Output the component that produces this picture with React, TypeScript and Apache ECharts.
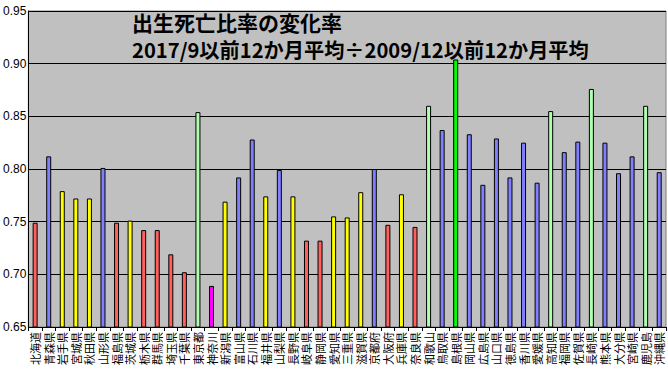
import React, { useEffect, useRef } from "react";
import * as echarts from "echarts";

const prefectures = [
  "北海道", "青森県", "岩手県", "宮城県", "秋田県", "山形県", "福島県", "茨城県", "栃木県", "群馬県",
  "埼玉県", "千葉県", "東京都", "神奈川", "新潟県", "富山県", "石川県", "福井県", "山梨県", "長野県",
  "岐阜県", "静岡県", "愛知県", "三重県", "滋賀県", "京都府", "大阪府", "兵庫県", "奈良県", "和歌山",
  "鳥取県", "島根県", "岡山県", "広島県", "山口県", "徳島県", "香川県", "愛媛県", "高知県", "福岡県",
  "佐賀県", "長崎県", "熊本県", "大分県", "宮崎県", "鹿児島", "沖縄県",
];

const ratios = [
  0.749, 0.812, 0.779, 0.772, 0.772, 0.801, 0.749, 0.751, 0.742, 0.742,
  0.719, 0.702, 0.854, 0.689, 0.769, 0.792, 0.828, 0.774, 0.799, 0.774,
  0.732, 0.732, 0.755, 0.754, 0.778, 0.800, 0.747, 0.776, 0.745, 0.860,
  0.837, 0.904, 0.833, 0.785, 0.829, 0.792, 0.825, 0.787, 0.855, 0.816,
  0.826, 0.876, 0.825, 0.796, 0.812, 0.860, 0.797,
];

// colour group of each bar: r=red, b=blue, y=yellow, l=light green, m=magenta, g=green
const groups = [
  "r", "b", "y", "y", "y", "b", "r", "y", "r", "r",
  "r", "r", "l", "m", "y", "b", "b", "y", "b", "y",
  "r", "r", "y", "y", "y", "b", "r", "y", "r", "l",
  "b", "g", "b", "b", "b", "b", "b", "b", "l", "b",
  "b", "l", "b", "b", "b", "l", "b",
];

const yTicks = [0.65, 0.7, 0.75, 0.8, 0.85, 0.9, 0.95];

const titleLines = ["出生死亡比率の変化率", "2017/9以前12か月平均÷2009/12以前12か月平均"];

const groupColors: Record<string, string> = {
  r: "#FF5F5F",
  b: "#8080FF",
  y: "#FFFF00",
  l: "#B0FFB0",
  m: "#FF00FF",
  g: "#00FF00",
};

export default function App() {
  const ref = useRef<HTMLDivElement>(null);
  useEffect(() => {
    if (!ref.current) return;
    const chart = echarts.init(ref.current, undefined, { renderer: "svg" });
    const base = {
      fontFamily: "Noto Sans CJK JP",
      fontWeight: "bold",
      fill: "#000",
      lineHeight: 28,
    };
    chart.setOption({
      animation: false,
      backgroundColor: "#FFFFFF",
      graphic: [
        {
          type: "text",
          x: 132,
          y: 35.5,
          z: 100,
          style: {
            text: `{a|${titleLines[0]}}\n{b|${titleLines[1]}}`,
            textVerticalAlign: "middle",
            textAlign: "left",
            rich: {
              a: { ...base, fontSize: 21 },
              b: { ...base, fontSize: 20.2 },
            },
          },
        },
      ],
      grid: {
        left: 27,
        right: 2,
        top: 11,
        bottom: 44,
        show: true,
        backgroundColor: "#C0C0C0",
        borderColor: "#808080",
        borderWidth: 1,
      },
      xAxis: {
        type: "category",
        data: prefectures,
        axisLine: { lineStyle: { color: "#000", width: 1 } },
        axisTick: { show: true, length: 4, lineStyle: { color: "#000" } },
        axisLabel: {
          rotate: 90,
          interval: 0,
          fontSize: 11,
          fontFamily: "Noto Sans CJK JP",
          color: "#000",
          margin: 5,
        },
      },
      yAxis: {
        type: "value",
        min: yTicks[0],
        max: yTicks[yTicks.length - 1],
        interval: 0.05,
        axisLine: { show: true, lineStyle: { color: "#000" } },
        axisTick: { show: false },
        splitLine: { lineStyle: { color: "#000", width: 1 } },
        axisLabel: {
          formatter: (v: number) => v.toFixed(2),
          fontSize: 12,
          fontFamily: "Liberation Sans",
          color: "#000",
          margin: 2,
        },
      },
      series: [
        {
          type: "bar",
          barWidth: 5,
          data: ratios.map((v, i) => ({
            value: v,
            itemStyle: {
              color: groupColors[groups[i]],
              borderColor: "#000",
              borderWidth: 1,
            },
          })),
        },
      ],
    });
    return () => chart.dispose();
  }, []);
  return (
    <div
      ref={ref}
      style={{ position: "fixed", left: 0, top: 0, width: 668, height: 371 }}
    />
  );
}
